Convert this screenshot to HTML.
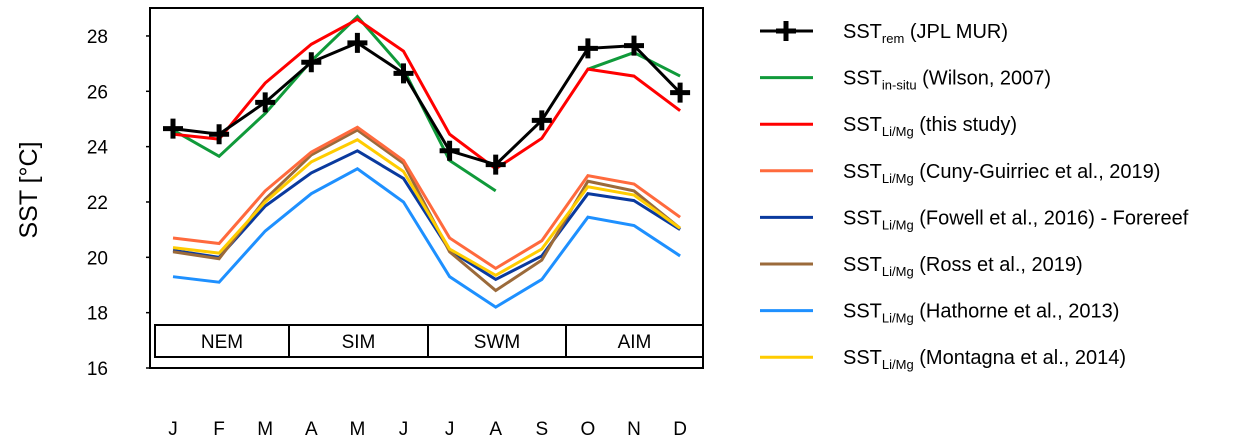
<!DOCTYPE html>
<html><head><meta charset="utf-8"><style>
html,body{margin:0;padding:0;background:#fff;}
svg{display:block;font-family:"Liberation Sans",sans-serif;}
</style></head><body>
<svg id="chart" width="1238" height="444" xmlns="http://www.w3.org/2000/svg">
<g id="plot"></g>
</svg>
<script>
const months = ["J","F","M","A","M","J","J","A","S","O","N","D"];
const yTicks = [16,18,20,22,24,26,28];
const seasons = ["NEM","SIM","SWM","AIM"];
const sstRem = [24.65,24.45,25.6,27.05,27.75,26.65,23.85,23.35,24.95,27.55,27.65,25.95];
const sstInSitu = [24.6,23.65,25.2,27.1,28.7,26.8,23.5,22.4,null,26.8,27.4,26.55];
const sstThis = [24.45,24.27,26.3,27.7,28.6,27.45,24.45,23.2,24.3,26.8,26.55,25.3];
const sstCuny = [20.7,20.5,22.4,23.8,24.7,23.5,20.7,19.6,20.6,22.95,22.65,21.45];
const sstFowell = [20.25,20.0,21.85,23.05,23.85,22.85,20.25,19.2,20.05,22.3,22.05,21.0];
const sstRoss = [20.2,19.95,22.1,23.7,24.6,23.4,20.2,18.8,19.9,22.75,22.4,21.05];
const sstHathorne = [19.3,19.1,20.95,22.3,23.2,22.0,19.3,18.2,19.2,21.45,21.15,20.05];
const sstMontagna = [20.35,20.15,22.0,23.45,24.25,23.1,20.3,19.35,20.3,22.55,22.25,21.05];

const NS="http://www.w3.org/2000/svg";
const g=document.getElementById('plot');
function el(t,a,p){const e=document.createElementNS(NS,t);for(const k in a)e.setAttribute(k,a[k]);(p||g).appendChild(e);return e;}
const X0=173, DX=46.1;
function xs(i){return X0+i*DX;}
function ys(v){return 368-(v-16)*27.67;}

let f=el('rect',{x:150,y:8,width:553,height:360,fill:'none',stroke:'#000','stroke-width':2});


yTicks.forEach(v=>{
  const t=el('text',{x:108,y:ys(v)+7,'text-anchor':'end','font-size':19,fill:'#000'});
  t.textContent=v;
  
  
  el('line',{x1:150,x2:146,y1:ys(v),y2:ys(v),stroke:'#000','stroke-width':1.5});
});
months.forEach((m,i)=>{
  const t=el('text',{x:xs(i),y:435,'text-anchor':'middle','font-size':19,fill:'#000'});
  t.textContent=m;
  
  
});
const yl=el('text',{x:0,y:0,transform:'translate(37,190) rotate(-90)','text-anchor':'middle','font-size':25,fill:'#000'});
yl.textContent='SST [°C]';


const sb=[155,289,428,566,703];
seasons.forEach((s,i)=>{
  const r=el('rect',{x:sb[i],y:325,width:sb[i+1]-sb[i],height:32,fill:'#fff',stroke:'#000','stroke-width':2});
  
  
  const t=el('text',{x:(sb[i]+sb[i+1])/2,y:348,'text-anchor':'middle','font-size':19,fill:'#000'});
  t.textContent=s;
  
  
});
function series(data,color,name,w){
  let d='',pen=false;
  data.forEach((v,i)=>{if(v==null){pen=false;return;}d+=(pen?'L':'M')+xs(i)+','+ys(v)+' ';pen=true;});
  const p=el('path',{d:d,fill:'none',stroke:color,'stroke-width':w||3,'stroke-linejoin':'miter'});
  
  
}
series(sstHathorne,'#1e90ff','hathorne');
series(sstFowell,'#0a3a9e','fowell');
series(sstRoss,'#9b6a3a','ross');
series(sstMontagna,'#ffcc00','montagna');
series(sstCuny,'#ff6a3d','cuny');
series(sstInSitu,'#109a3a','insitu');
series(sstThis,'#ff0000','this-study');
series(sstRem,'#000000','rem',3);
function plus(cx,cy,name){
  const p=el('path',{d:`M${cx-10},${cy}H${cx+10}M${cx},${cy-10}V${cy+10}`,stroke:'#000','stroke-width':5});
  
  
}
sstRem.forEach((v,i)=>plus(xs(i),ys(v),'rem-marker-'+i));
const leg=[['#000','rem','(JPL MUR)'],['#109a3a','in-situ','(Wilson, 2007)'],['#ff0000','Li/Mg','(this study)'],['#ff6a3d','Li/Mg','(Cuny-Guirriec et al., 2019)'],['#0a3a9e','Li/Mg','(Fowell et al., 2016) - Forereef'],['#9b6a3a','Li/Mg','(Ross et al., 2019)'],['#1e90ff','Li/Mg','(Hathorne et al., 2013)'],['#ffcc00','Li/Mg','(Montagna et al., 2014)']];
leg.forEach((l,i)=>{
  const y=31+i*46.6;
  const gg=el('g',{});
  
  
  el('line',{x1:760,x2:813,y1:y,y2:y,stroke:l[0],'stroke-width':3},gg);
  if(i===0){el('path',{d:`M${786-10},${y}H${786+10}M786,${y-10}V${y+10}`,stroke:'#000','stroke-width':5},gg);}
  const t=el('text',{x:843,y:y+7,'font-size':20,fill:'#000'},gg);
  t.innerHTML='SST<tspan font-size="13" dy="5">'+l[1]+'</tspan><tspan dy="-5"> '+l[2]+'</tspan>';
});
</script>
</body></html>
